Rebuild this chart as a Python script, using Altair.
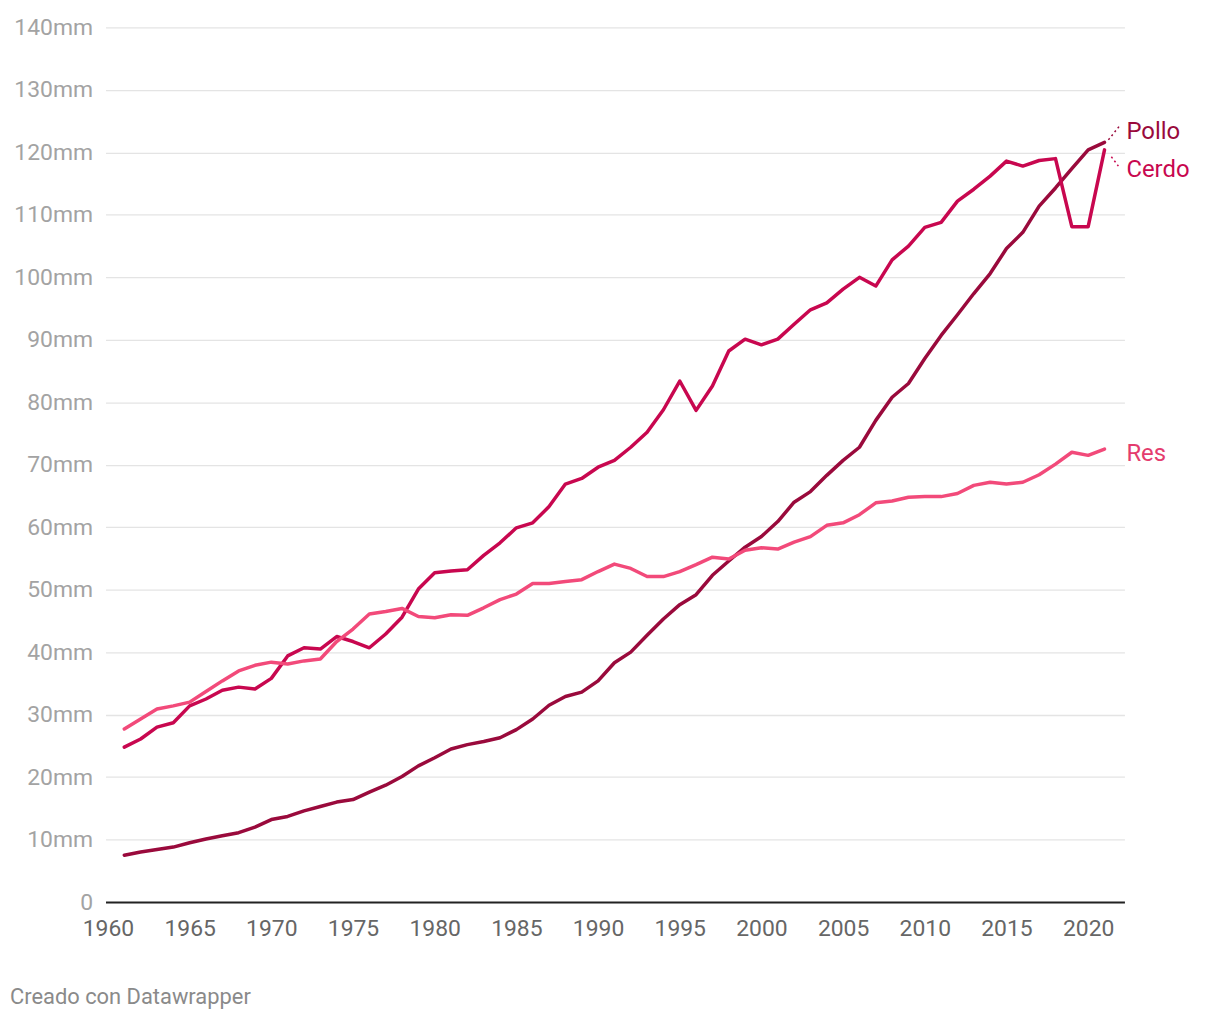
import altair as alt
import pandas as pd

years = list(range(1961, 2022))

pollo = [7.5, 8.0, 8.4, 8.8, 9.5, 10.1, 10.6, 11.1, 12.0, 13.2,
         13.7, 14.6, 15.3, 16.0, 16.4, 17.6, 18.7, 20.1, 21.8, 23.1,
         24.5, 25.2, 25.7, 26.3, 27.6, 29.3, 31.5, 32.9, 33.6, 35.4,
         38.3, 40.0, 42.7, 45.3, 47.6, 49.2, 52.3, 54.6, 56.8, 58.5,
         60.9, 64.0, 65.7, 68.3, 70.7, 72.8, 77.1, 80.8, 83.0, 87.0,
         90.7, 94.0, 97.4, 100.6, 104.6, 107.2, 111.4, 114.3, 117.4, 120.4,
         121.6]

cerdo = [24.8, 26.1, 28.0, 28.7, 31.4, 32.5, 33.9, 34.4, 34.1, 35.8,
         39.4, 40.7, 40.5, 42.5, 41.7, 40.7, 42.9, 45.6, 50.1, 52.7,
         53.0, 53.2, 55.5, 57.5, 59.9, 60.7, 63.3, 66.9, 67.8, 69.6,
         70.7, 72.8, 75.2, 78.8, 83.4, 78.7, 82.6, 88.2, 90.1, 89.2,
         90.1, 92.5, 94.8, 95.9, 98.1, 100.0, 98.6, 102.8, 105.0, 108.0,
         108.8, 112.2, 114.1, 116.2, 118.6, 117.8, 118.7, 119.0, 108.1, 108.1,
         120.4]

res = [27.7, 29.3, 30.9, 31.4, 32.0, 33.7, 35.4, 37.0, 37.9, 38.4,
       38.1, 38.6, 38.9, 41.7, 43.7, 46.1, 46.5, 47.0, 45.7, 45.5,
       46.0, 45.9, 47.1, 48.4, 49.3, 51.0, 51.0, 51.3, 51.6, 52.9,
       54.1, 53.4, 52.1, 52.1, 52.9, 54.0, 55.2, 54.9, 56.3, 56.7,
       56.5, 57.6, 58.5, 60.3, 60.7, 62.0, 63.9, 64.2, 64.8, 64.9,
       64.9, 65.4, 66.7, 67.2, 66.9, 67.2, 68.4, 70.1, 72.0, 71.5,
       72.5]

series_names = ["Pollo", "Cerdo", "Res"]
series_colors = ["#9a0a3c", "#c8074f", "#f24a7a"]
label_colors = ["#9a0a3c", "#c8074f", "#e43c6e"]

x_ticks = list(range(1960, 2021, 5))
y_ticks = list(range(0, 141, 10))

# label positions at the right end (value-space)
label_y = [123.2, 117.2, 71.7]
# dotted connectors (year, value) start -> end
conn_names = ["Pollo", "Cerdo"]
conn_x = [2021.24, 2021.42]
conn_x2 = [2021.91, 2021.85]
conn_y = [122.0, 119.3]
conn_y2 = [124.2, 117.8]

credit = "Creado con Datawrapper"

rows = []
for name, vals in zip(series_names, [pollo, cerdo, res]):
    for yr, v in zip(years, vals):
        rows.append({"year": yr, "value": v, "serie": name})
df = pd.DataFrame(rows)

labels_df = pd.DataFrame({"serie": series_names, "year": [2021] * 3, "ly": label_y})
conn_df = pd.DataFrame({"serie": conn_names, "x": conn_x, "x2": conn_x2, "y": conn_y, "y2": conn_y2})

FONT = "Roboto"
xscale = alt.Scale(domain=[1959.85, 2022.22], nice=False, zero=False)
yscale = alt.Scale(domain=[0, 140], nice=False)
cscale = alt.Scale(domain=series_names, range=series_colors)
lscale = alt.Scale(domain=series_names, range=label_colors)

xaxis = alt.Axis(values=x_ticks, format="d", title=None, grid=False,
                 domain=True, domainColor="#222222", domainWidth=2,
                 ticks=False, labelPadding=16, labelFontSize=23,
                 labelColor="#666666", labelFont=FONT)
yaxis = alt.Axis(values=y_ticks, title=None, grid=True, gridColor="#e4e4e4",
                 gridWidth=1.3, domain=False, ticks=False, labelPadding=13,
                 labelFontSize=23, labelColor="#a3a3a3", labelFont=FONT,
                 labelExpr="datum.value == 0 ? '0' : datum.value + 'mm'")

lines = alt.Chart(df).mark_line(strokeWidth=3.5, strokeJoin="round", strokeCap="round").encode(
    x=alt.X("year:Q", scale=xscale, axis=xaxis),
    y=alt.Y("value:Q", scale=yscale, axis=yaxis),
    color=alt.Color("serie:N", scale=cscale, legend=None),
    detail="serie:N",
)

labels = alt.Chart(labels_df).mark_text(align="left", baseline="middle", dx=22,
                                        fontSize=24, font=FONT).encode(
    x=alt.X("year:Q", scale=xscale, axis=xaxis),
    y=alt.Y("ly:Q", scale=yscale, axis=yaxis),
    text="serie:N",
    color=alt.Color("serie:N", scale=lscale, legend=None),
)

conns = alt.Chart(conn_df).mark_rule(strokeDash=[2, 3], strokeWidth=1.5).encode(
    x=alt.X("x:Q", scale=xscale, axis=xaxis),
    x2="x2:Q",
    y=alt.Y("y:Q", scale=yscale, axis=yaxis),
    y2="y2:Q",
    color=alt.Color("serie:N", scale=cscale, legend=None),
)

credit_text = alt.Chart(pd.DataFrame({"t": [credit]})).mark_text(
    align="left", baseline="middle", fontSize=22, font=FONT, color="#8a8a8a"
).encode(text="t:N", x=alt.value(-96), y=alt.value(974))

chart = alt.layer(lines, conns, labels, credit_text).resolve_scale(color="independent").properties(
    width=1024, height=879,
    autosize=alt.AutoSizeParams(type="none"),
    padding={"left": 98, "top": 17, "right": 88, "bottom": 110},
).configure(background="white").configure_view(stroke=None)

chart.save("out.html", embed_options={"renderer": "svg", "actions": False})
